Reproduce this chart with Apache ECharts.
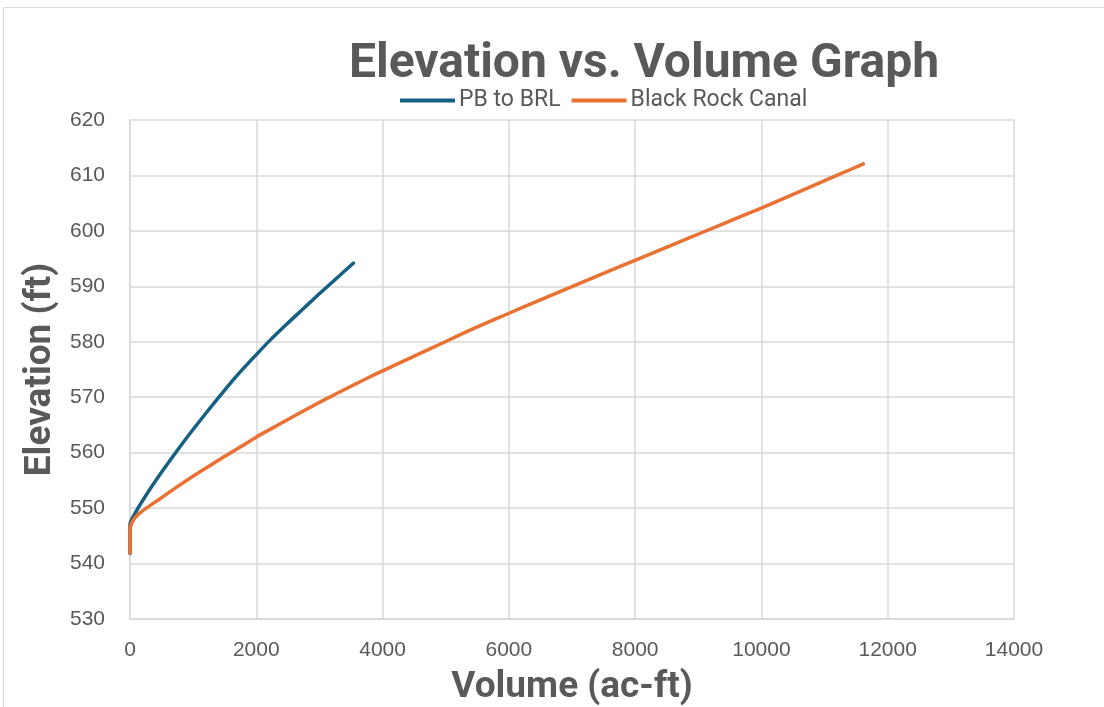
<!DOCTYPE html>
<html>
<head>
<meta charset="utf-8">
<title>Elevation vs. Volume Graph</title>
<script src="https://cdn.jsdelivr.net/npm/echarts@6/dist/echarts.min.js"></script>
<style>
  html, body { margin: 0; padding: 0; background: #fff; }
  #main { width: 1104px; height: 707px; }
</style>
</head>
<body>
<div id="main"></div>
<script>
// PB to BRL
const pbVolume = [0, 0, 82, 241, 452, 716, 980, 1243, 1428, 1693, 1993, 2220, 2484, 2748, 3012, 3276, 3540];
const pbElevation = [541.8, 547.0, 549.1, 552.1, 555.7, 559.9, 563.9, 567.7, 570.3, 573.9, 577.6, 580.3, 583.2, 586.0, 588.8, 591.5, 594.2];

// Black Rock Canal
const brcVolume = [0, 0, 55, 188, 452, 716, 980, 1243, 1508, 1772, 1998, 2299, 2564, 2827, 3039, 3540, 3805, 4331, 4860, 5387, 5994, 6443, 6971, 7367, 7763, 7997, 8552, 9081, 9610, 10016, 10402, 10929, 11457, 11615];
const brcElevation = [541.9, 546.1, 547.9, 549.4, 551.5, 553.6, 555.6, 557.5, 559.4, 561.2, 562.8, 564.7, 566.4, 568.0, 569.3, 572.2, 573.7, 576.5, 579.3, 582.1, 585.1, 587.3, 589.8, 591.7, 593.6, 594.7, 597.3, 599.8, 602.3, 604.2, 606.1, 608.7, 611.3, 612.1];

const seriesNames = ['PB to BRL', 'Black Rock Canal'];

const zip = (xs, ys) => xs.map((x, i) => [x, ys[i]]);

const textColor = '#595959';
const gridColor = '#d9d9d9';

const chart = echarts.init(document.getElementById('main'));

chart.setOption({
  animation: false,
  backgroundColor: '#fff',
  title: {
    text: 'Elevation vs. Volume Graph',
    left: 639,
    top: 36,
    textAlign: 'center',
    textStyle: { fontFamily: 'Roboto', fontWeight: 'bold', fontSize: 48, color: textColor }
  },
  legend: {
    data: seriesNames,
    left: 395,
    top: 84,
    icon: 'rect',
    itemWidth: 55,
    itemHeight: 4,
    itemGap: 11,
    textStyle: { fontFamily: 'Roboto', fontSize: 23, color: textColor, padding: [0, 0, 0, -1] }
  },
  grid: { left: 130, right: 90, top: 120, bottom: 88, outerBoundsMode: 'none' },
  xAxis: {
    type: 'value',
    min: 0, max: 14000, interval: 2000,
    name: 'Volume (ac-ft)',
    nameLocation: 'middle',
    nameGap: 50,
    nameTextStyle: { fontFamily: 'Roboto', fontWeight: 'bold', fontSize: 37, color: textColor },
    axisLine: { show: true, lineStyle: { color: gridColor, width: 1.5 } },
    axisTick: { show: false },
    axisLabel: {
      fontFamily: 'Liberation Sans', fontSize: 21, color: textColor, margin: 21,
      formatter: v => String(v)
    },
    splitLine: { show: true, lineStyle: { color: gridColor, width: 1.5 } }
  },
  yAxis: {
    type: 'value',
    min: 530, max: 620, interval: 10,
    name: 'Elevation (ft)',
    nameLocation: 'middle',
    nameGap: 68,
    nameTextStyle: { fontFamily: 'Roboto', fontWeight: 'bold', fontSize: 37, color: textColor },
    axisLine: { show: true, lineStyle: { color: gridColor, width: 1.5 } },
    axisTick: { show: false },
    axisLabel: { fontFamily: 'Liberation Sans', fontSize: 21, color: textColor, margin: 25 },
    splitLine: { show: true, lineStyle: { color: gridColor, width: 1.5 } }
  },
  graphic: [{
    type: 'rect',
    shape: { x: 3.5, y: 7.5, width: 1200, height: 800 },
    style: { fill: 'none', stroke: gridColor, lineWidth: 1 },
    silent: true
  }],
  series: [
    {
      name: seriesNames[0],
      type: 'line',
      data: zip(pbVolume, pbElevation),
      smooth: 0.3,
      symbol: 'none',
      lineStyle: { color: '#156082', width: 3.5, cap: 'round' },
      itemStyle: { color: '#156082' }
    },
    {
      name: seriesNames[1],
      type: 'line',
      data: zip(brcVolume, brcElevation),
      smooth: 0.3,
      symbol: 'none',
      lineStyle: { color: '#E97132', width: 3.5, cap: 'round' },
      itemStyle: { color: '#E97132' }
    }
  ]
});
</script>
</body>
</html>
